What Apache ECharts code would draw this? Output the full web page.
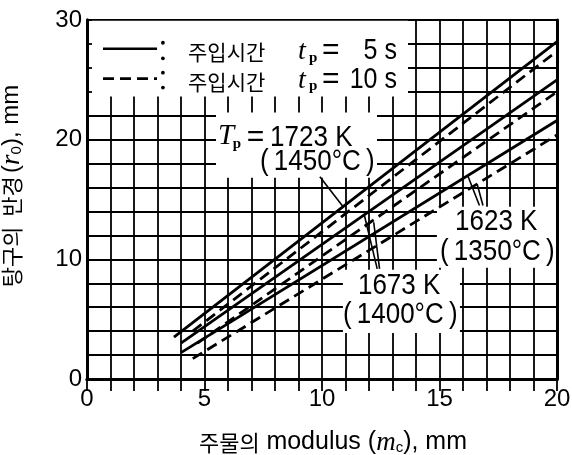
<!DOCTYPE html>
<html><head><meta charset="utf-8">
<script src="https://cdn.jsdelivr.net/npm/echarts@6.0.0/dist/echarts.min.js"></script>
<style>html,body{margin:0;padding:0;background:#fff}#c{width:572px;height:455px}</style>
</head><body><div id="c"></div>
<script>
// ---- data ----
const xTickLabels = [0, 5, 10, 15, 20];
const yTickLabels = [0, 10, 20, 30];
const temperaturesK = ['1723 K', '1673 K', '1623 K'];
const temperaturesC = ['1450°C', '1400°C', '1350°C'];
const pourTimes = ['5 s', '10 s'];
const pourLabel = '주입시간';
// [modulus mc (mm), runner radius r0 (mm)] end points of each straight line
const r1723_5s  = [[3.7, 3.5], [20, 28.2]];
const r1723_10s = [[4.5, 4.0], [20, 27.4]];
const r1673_5s  = [[4.0, 3.0], [20, 25.0]];
const r1673_10s = [[4.7, 3.0], [20, 24.0]];
const r1623_5s  = [[4.0, 2.2], [20, 21.6]];
const r1623_10s = [[4.5, 1.7], [20, 20.4]];
// leader lines (data coords)
const leader1723 = [[9.91, 16.9], [10.9, 14.4]];
const leader1623a = [[16.7, 14.5], [16.2, 17.0]];
const leader1623b = [[16.85, 14.5], [16.6, 16.3]];
const leader1673a = [[12.35, 9.2], [11.8, 13.7]];
const leader1673b = [[12.45, 9.2], [12.2, 13.1]];
// white boxes behind legend and labels [x0, y0, x1, y1]
const boxes = [
  [0.07, 23.6, 13.66, 29.93],
  [5.49, 16.82, 12.34, 22.26],
  [14.89, 9.29, 20, 14.39],
  [10.89, 3.85, 15.87, 9.12]
];

const SANS = '"Liberation Sans", Arial, sans-serif';
const SERIF = '"Liberation Serif", serif';
const KR = '"Noto Sans CJK KR", sans-serif';

const texts = [
  // legend
  {at: [4.30, 27.3], text: pourLabel, font: '21px ' + KR, align: 'left'},
  {at: [4.30, 24.85], text: pourLabel, font: '21px ' + KR, align: 'left'},
  {at: [8.98, 27.35], text: 't', font: 'italic 28px ' + SERIF, align: 'left'},
  {at: [9.45, 26.85], text: 'p', font: 'bold 15px ' + SERIF, align: 'left'},
  {at: [10.0, 27.4], text: '=', font: '30px ' + SANS, align: 'left'},
  {at: [13.19, 27.4], text: pourTimes[0], font: '25px ' + SANS, align: 'right', sy: 1.15},
  {at: [8.98, 24.95], text: 't', font: 'italic 28px ' + SERIF, align: 'left'},
  {at: [9.45, 24.45], text: 'p', font: 'bold 15px ' + SERIF, align: 'left'},
  {at: [10.0, 25.0], text: '=', font: '30px ' + SANS, align: 'left'},
  {at: [13.19, 25.0], text: pourTimes[1], font: '25px ' + SANS, align: 'right', sy: 1.15},
  // 1723 K label
  {at: [5.57, 20.25], text: 'T', font: 'italic 29px ' + SERIF, align: 'left'},
  {at: [6.2, 19.6], text: 'p', font: 'bold 15px ' + SERIF, align: 'left'},
  {at: [6.8, 20.2], text: '=', font: '30px ' + SANS, align: 'left'},
  {at: [7.79, 20.2], text: temperaturesK[0], font: '26px ' + SANS, align: 'left', sy: 1.15},
  {at: [7.36, 18.16], text: '(\u2009' + temperaturesC[0] + '\u2009)', font: '26px ' + SANS, align: 'left', sy: 1.15},
  // 1623 K label
  {at: [15.66, 13.14], text: temperaturesK[2], font: '26px ' + SANS, align: 'left', sy: 1.15},
  {at: [15.02, 10.63], text: '(\u2009' + temperaturesC[2] + '\u2009)', font: '26px ' + SANS, align: 'left', sy: 1.15},
  // 1673 K label
  {at: [11.53, 7.78], text: temperaturesK[1], font: '26px ' + SANS, align: 'left', sy: 1.15},
  {at: [10.89, 5.36], text: '(\u2009' + temperaturesC[1] + '\u2009)', font: '26px ' + SANS, align: 'left', sy: 1.15}
];

// legend graphics in data coords
const legendSolid = [[0.68, 27.6], [2.98, 27.6]];
const legendDashed = [[0.68, 25.1], [2.98, 25.1]];
const colonDots = [[3.23, 28.1], [3.23, 26.8], [3.23, 25.6], [3.23, 24.35]];

const chart = echarts.init(document.getElementById('c'), null, {renderer: 'canvas'});

const BLACK = '#000';
const DASH = [11, 6];
function lineSeries(data, dashed, width) {
  return {
    type: 'line', data: data, xAxisIndex: 0, yAxisIndex: 0,
    symbol: 'none', showSymbol: false, silent: true, z: 3, animation: false,
    lineStyle: {color: BLACK, width: width || 2.8, type: dashed ? DASH : 'solid'}
  };
}

const option = {
  animation: false,
  backgroundColor: '#fff',
  grid: {left: 87, top: 20, width: 470, height: 359, containLabel: false, outerBoundsMode: 'none'},
  xAxis: [
    {
      type: 'value', min: 0, max: 20, interval: 1, position: 'bottom', z: 0,
      axisLine: {show: true, onZero: false, lineStyle: {color: BLACK, width: 3}},
      axisTick: {show: false},
      axisLabel: {
        formatter: v => xTickLabels.includes(v) ? String(v) : '',
        color: BLACK, fontSize: 24, fontFamily: SANS, margin: 8, showMaxLabel: true, showMinLabel: true
      },
      splitLine: {show: true, lineStyle: {color: BLACK, width: 1.8}},
      name: '{k|주물의}  {t|modulus (}{i|m}{s|c}{t|), mm}',
      nameLocation: 'middle', nameGap: 50,
      nameTextStyle: {
        padding: [0, 0, 0, 22],
        rich: {
          k: {fontFamily: KR, fontSize: 22, color: BLACK},
          t: {fontFamily: SANS, fontSize: 25, color: BLACK},
          i: {fontFamily: SERIF, fontStyle: 'italic', fontSize: 27, color: BLACK},
          s: {fontFamily: SANS, fontSize: 15, color: BLACK, padding: [10, 0, 0, 0]}
        }
      }
    },
    {
      type: 'value', min: 0, max: 20, interval: 1, position: 'top', z: 2,
      axisLine: {show: true, lineStyle: {color: BLACK, width: 3}},
      axisTick: {show: true, inside: true, length: 12, lineStyle: {color: BLACK, width: 1.8}},
      axisLabel: {show: false}, splitLine: {show: false}
    }
  ],
  yAxis: [
    {
      type: 'value', min: 0, max: 30, interval: 2, position: 'left', z: 0,
      axisLine: {show: true, onZero: false, lineStyle: {color: BLACK, width: 3}},
      axisTick: {show: false},
      axisLabel: {
        formatter: v => yTickLabels.includes(v) ? String(v) : '',
        color: BLACK, fontSize: 24, fontFamily: SANS, margin: 5
      },
      splitLine: {show: true, lineStyle: {color: BLACK, width: 1.8}},
      name: '{k|탕구의  반경} {t|(}{i|r}{s|0}{t|), mm}',
      nameLocation: 'middle', nameGap: 62, nameRotate: 90,
      nameTextStyle: {
        padding: [0, 0, 0, 27],
        rich: {
          k: {fontFamily: KR, fontSize: 22, color: BLACK},
          t: {fontFamily: SANS, fontSize: 24, color: BLACK},
          i: {fontFamily: SERIF, fontStyle: 'italic', fontSize: 27, color: BLACK},
          s: {fontFamily: SANS, fontSize: 15, color: BLACK, padding: [10, 0, 0, 0]}
        }
      }
    },
    {
      type: 'value', min: 0, max: 30, interval: 2, position: 'left', offset: 0, z: 2,
      axisLine: {show: true, onZero: false, lineStyle: {color: BLACK, width: 3}},
      axisTick: {show: true, inside: true, length: 5, lineStyle: {color: BLACK, width: 1.8}},
      axisLabel: {show: false}, splitLine: {show: false}
    },
    {
      type: 'value', min: 0, max: 30, interval: 2, position: 'right', z: 2,
      axisLine: {show: true, onZero: false, lineStyle: {color: BLACK, width: 3}},
      axisTick: {show: false}, axisLabel: {show: false}, splitLine: {show: false}
    }
  ],
  series: [
    // white boxes
    {
      type: 'custom', xAxisIndex: 0, yAxisIndex: 0, z: 1, silent: true, clip: false,
      data: boxes,
      encode: {x: [0, 2], y: [1, 3]},
      renderItem: function (params, api) {
        const p0 = api.coord([api.value(0), api.value(3)]);
        const p1 = api.coord([api.value(2), api.value(1)]);
        return {type: 'rect', shape: {x: p0[0], y: p0[1], width: p1[0] - p0[0], height: p1[1] - p0[1]},
                style: {fill: '#fff'}};
      }
    },
    lineSeries(r1723_5s, false),
    lineSeries(r1723_10s, true),
    lineSeries(r1673_5s, false),
    lineSeries(r1673_10s, true),
    lineSeries(r1623_5s, false),
    lineSeries(r1623_10s, true),
    lineSeries(leader1723, false, 1.6),
    lineSeries(leader1623a, false, 1.6),
    lineSeries(leader1623b, false, 1.6),
    lineSeries(leader1673a, false, 1.6),
    lineSeries(leader1673b, false, 1.6),
    // legend samples
    Object.assign(lineSeries(legendSolid, false, 2.6), {z: 4}),
    Object.assign(lineSeries(legendDashed, true, 2.6), {z: 4}),
    {
      type: 'custom', xAxisIndex: 0, yAxisIndex: 0, z: 5, silent: true, clip: false,
      data: colonDots,
      renderItem: function (params, api) {
        const p = api.coord([api.value(0), api.value(1)]);
        return {type: 'circle', shape: {cx: p[0], cy: p[1], r: 1.9}, style: {fill: BLACK}};
      }
    },
    // texts
    {
      type: 'custom', xAxisIndex: 0, yAxisIndex: 0, z: 6, silent: true, clip: false,
      data: texts.map((t, i) => [t.at[0], t.at[1], i]),
      renderItem: function (params, api) {
        const t = texts[api.value(2)];
        const p = api.coord([api.value(0), api.value(1)]);
        return {type: 'text', x: p[0], y: p[1], scaleY: t.sy || 1,
                style: {text: t.text, font: t.font, fill: BLACK, align: t.align, verticalAlign: 'middle'}};
      }
    }
  ]
};
chart.setOption(option);
</script>
</body></html>
